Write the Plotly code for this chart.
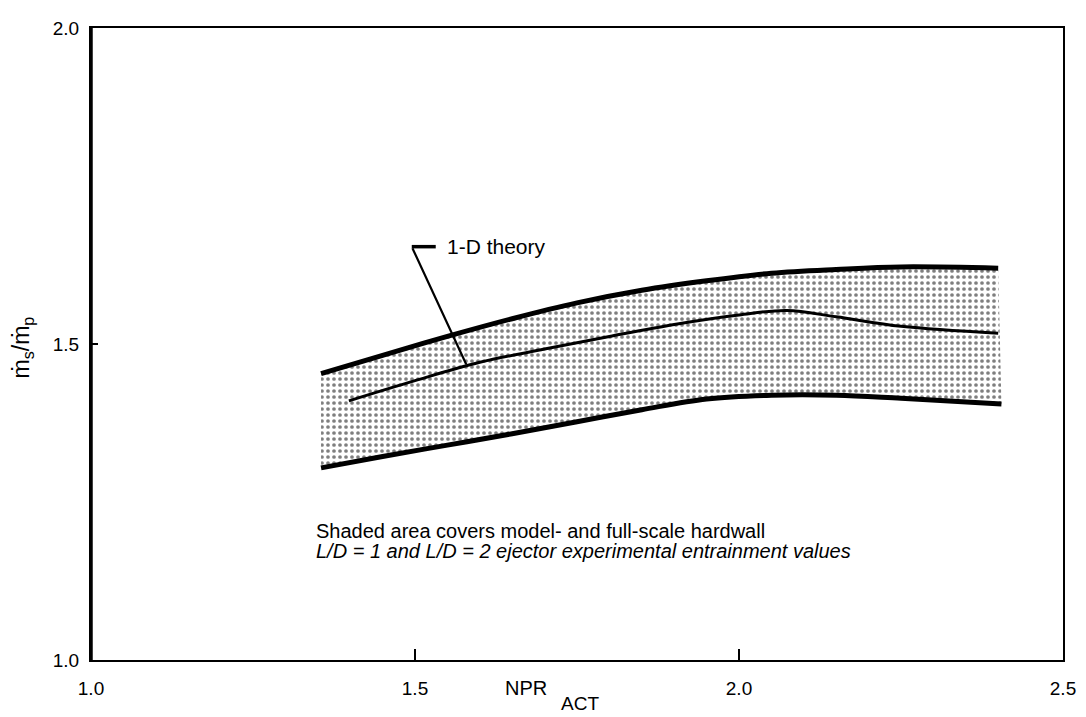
import plotly.graph_objects as go

# Upper boundary of shaded band
upper_x = [1.355, 1.45, 1.55, 1.65, 1.75, 1.85, 1.95, 2.05, 2.15, 2.25, 2.40]
upper_y = [1.453, 1.482, 1.512, 1.540, 1.565, 1.585, 1.600, 1.612, 1.618, 1.622, 1.620]

# Lower boundary of shaded band
lower_x = [1.355, 1.45, 1.55, 1.65, 1.75, 1.85, 1.95, 2.05, 2.15, 2.25, 2.405]
lower_y = [1.304, 1.322, 1.340, 1.358, 1.377, 1.396, 1.413, 1.419, 1.419, 1.414, 1.405]

# 1-D theory curve
theory_x = [1.398, 1.5, 1.6, 1.7, 1.8, 1.9, 2.0, 2.074, 2.15, 2.25, 2.40]
theory_y = [1.410, 1.442, 1.471, 1.492, 1.512, 1.531, 1.546, 1.553, 1.543, 1.528, 1.517]

x_ticks = [1.0, 1.5, 2.0, 2.5]
x_tick_labels = ["1.0", "1.5", "2.0", "2.5"]
y_ticks = [1.0, 1.5, 2.0]
y_tick_labels = ["1.0", "1.5", "2.0"]

FONT = "Liberation Sans, Arial, sans-serif"

fig = go.Figure()
fig.add_trace(go.Scatter(x=lower_x, y=lower_y, mode="lines",
                         line=dict(color="black", width=5, shape="spline"),
                         showlegend=False, hoverinfo="skip"))
fig.add_trace(go.Scatter(x=upper_x, y=upper_y, mode="lines",
                         line=dict(color="black", width=5, shape="spline"),
                         fill="tonexty", fillcolor="rgba(0,0,0,0)",
                         fillpattern=dict(shape=".", fgcolor="black", bgcolor="white",
                                          size=6, solidity=0.3),
                         showlegend=False, hoverinfo="skip"))
fig.add_trace(go.Scatter(x=theory_x, y=theory_y, mode="lines",
                         line=dict(color="black", width=3, shape="spline"),
                         showlegend=False, hoverinfo="skip"))

# callout for 1-D theory
fig.add_annotation(x=1.579, y=1.468, ax=1.495, ay=1.654, axref="x", ayref="y",
                   xref="x", yref="y", text="", showarrow=True, arrowhead=0,
                   arrowwidth=2.2, arrowcolor="black")
fig.add_shape(type="line", x0=1.495, x1=1.532, y0=1.654, y1=1.654, xref="x", yref="y",
              line=dict(color="black", width=3.5))
fig.add_annotation(x=1.547, y=1.655, xref="x", yref="y", text="1-D theory",
                   showarrow=False, xanchor="left", yanchor="middle",
                   font=dict(family=FONT, size=21, color="black"))

# note text
fig.add_annotation(x=1.344, y=1.204, xref="x", yref="y",
                   text="Shaded area covers model- and full-scale hardwall",
                   showarrow=False, xanchor="left", yanchor="middle",
                   font=dict(family=FONT, size=20, color="black"))
fig.add_annotation(x=1.344, y=1.172, xref="x", yref="y",
                   text="<i>L/D = 1 and L/D = 2 ejector experimental entrainment values</i>",
                   showarrow=False, xanchor="left", yanchor="middle",
                   font=dict(family=FONT, size=20, color="black"))

# axis titles
fig.add_annotation(x=0.424, y=-0.0448, xref="paper", yref="paper", text="NPR",
                   showarrow=False, xanchor="left", yanchor="middle",
                   font=dict(family=FONT, size=20, color="black"))
fig.add_annotation(x=0.481, y=-0.0696, xref="paper", yref="paper", text="ACT",
                   showarrow=False, xanchor="left", yanchor="middle",
                   font=dict(family=FONT, size=19, color="black"))
fig.add_annotation(x=-0.0707, y=0.495, xref="paper", yref="paper",
                   text="ṁ<sub>s</sub>/ṁ<sub>p</sub>", textangle=-90,
                   showarrow=False, xanchor="center", yanchor="middle",
                   font=dict(family=FONT, size=23, color="black"))

# thicker left axis line
fig.add_shape(type="line", xref="paper", yref="paper", x0=0, x1=0, y0=0, y1=1,
              line=dict(color="black", width=3.5))

fig.update_layout(
    width=1078, height=709,
    margin=dict(l=83, r=19, t=10, b=57),
    paper_bgcolor="white", plot_bgcolor="white",
    font=dict(family=FONT, color="black"),
)
fig.update_xaxes(range=[1.0, 2.5], tickvals=x_ticks, ticktext=x_tick_labels,
                 showgrid=False, zeroline=False, showline=True, mirror=True,
                 linecolor="black", linewidth=2, ticks="inside", ticklen=11,
                 tickwidth=2, tickcolor="black", ticklabelstandoff=10,
                 ticklabeloverflow="allow",
                 tickfont=dict(family=FONT, size=19, color="black"))
fig.update_yaxes(range=[1.0, 2.0], tickvals=y_ticks, ticktext=y_tick_labels,
                 showgrid=False, zeroline=False, showline=True, mirror=True,
                 linecolor="black", linewidth=2, ticks="inside", ticklen=7,
                 tickwidth=2, tickcolor="black", ticklabelstandoff=6,
                 ticklabeloverflow="allow",
                 tickfont=dict(family=FONT, size=19, color="black"))

fig.write_html("out.html")
